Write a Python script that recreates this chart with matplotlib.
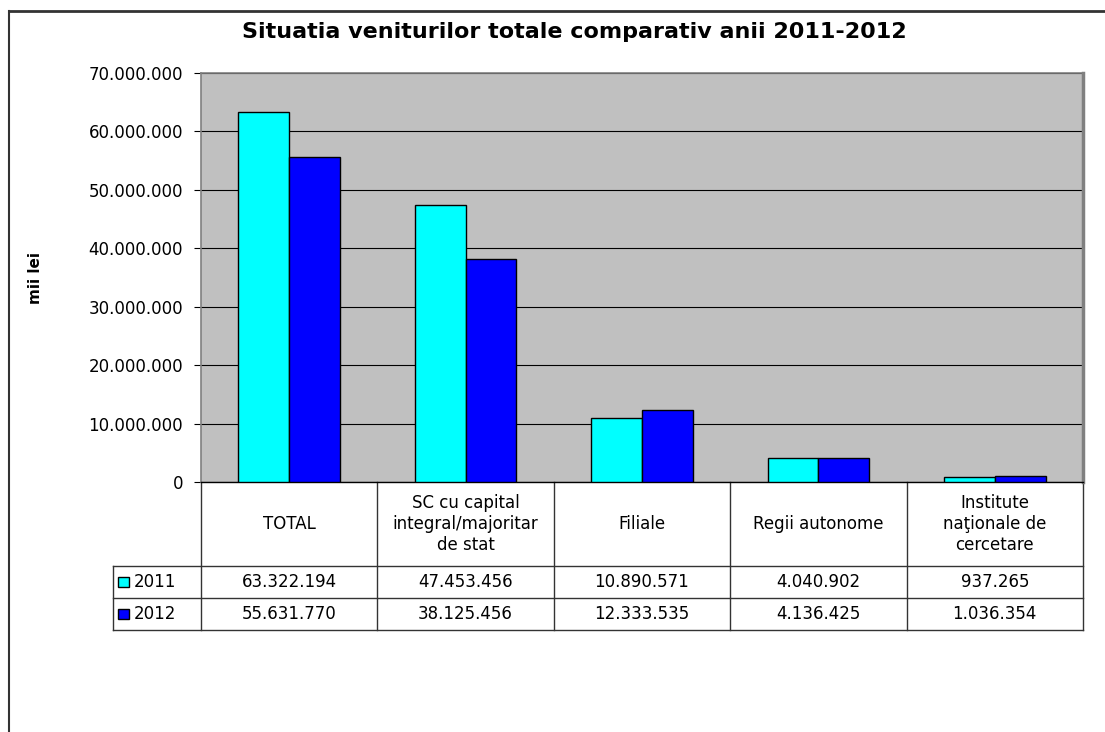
import matplotlib
matplotlib.use("Agg")
import matplotlib.pyplot as plt
import matplotlib.transforms as mtransforms
from matplotlib.ticker import FuncFormatter, MultipleLocator
from matplotlib.patches import Rectangle
import numpy as np

plt.rcParams['font.family'] = ['DejaVu Sans']

categories = ['TOTAL', 'SC cu capital\nintegral/majoritar\nde stat', 'Filiale',
              'Regii autonome', 'Institute\nnaţionale de\ncercetare']
years = ['2011', '2012']
v2011 = [63322194, 47453456, 10890571, 4040902, 937265]
v2012 = [55631770, 38125456, 12333535, 4136425, 1036354]
colors = ['#00FFFF', '#0000FF']

def dots(v):
    return f"{v:,.0f}".replace(",", ".")

fig = plt.figure(figsize=(11.05, 7.32), dpi=100)
ax = fig.add_axes([201/1105, 1 - 482/732, (1083-201)/1105, (482-73)/732])

x = np.arange(len(categories))
w = 0.288
ax.bar(x - w/2, v2011, w, color=colors[0], edgecolor='black', linewidth=1, zorder=3)
ax.bar(x + w/2, v2012, w, color=colors[1], edgecolor='black', linewidth=1, zorder=3)

ax.set_facecolor('#C0C0C0')
ax.set_xlim(-0.5, len(categories) - 0.5)
ax.set_ylim(0, 70000000)
ax.yaxis.set_major_locator(MultipleLocator(10000000))
ax.yaxis.set_major_formatter(FuncFormatter(lambda v, p: dots(v)))
ax.grid(axis='y', color='black', linewidth=0.8, zorder=1)
ax.set_xticks([])
ax.tick_params(axis='y', length=5, width=0.8, pad=8, labelsize=12, direction='out')
for s in ['top', 'right', 'left']:
    ax.spines[s].set_color('#808080')
    ax.spines[s].set_linewidth(1.2)
ax.spines['right'].set_linewidth(2.5)
ax.spines['bottom'].set_color('black')
ax.spines['bottom'].set_linewidth(1)
ax.set_ylabel('mii lei', fontsize=11, fontweight='bold')
ax.yaxis.set_label_coords((43 - 201) / (1083 - 201), 0.5)

# data table below the plot
tr = mtransforms.blended_transform_factory(ax.transData, ax.transAxes)
h = 482 - 73
y_head = -(566 - 482) / h
y_r1 = -(598 - 482) / h
y_r2 = -(630 - 482) / h
xl = -1.0
n = len(categories)
lc = '#333333'
for xb in np.arange(n + 1) - 0.5:
    ax.plot([xb, xb], [0, y_r2], color=lc, lw=1, transform=tr, clip_on=False)
ax.plot([xl, xl], [y_head, y_r2], color=lc, lw=1, transform=tr, clip_on=False)
for yy in [y_head, y_r1, y_r2]:
    ax.plot([xl, n - 0.5], [yy, yy], color=lc, lw=1, transform=tr, clip_on=False)

for i, c in enumerate(categories):
    ax.text(i, y_head / 2, c, ha='center', va='center', fontsize=12,
            linespacing=1.25, transform=tr)
rows = [(v2011, y_head, y_r1, colors[0], years[0]),
        (v2012, y_r1, y_r2, colors[1], years[1])]
for vals, yt, yb, col, yr in rows:
    ym = (yt + yb) / 2
    for i, v in enumerate(vals):
        ax.text(i, ym, dots(v), ha='center', va='center', fontsize=12, transform=tr)
    ax.add_patch(Rectangle((xl + 0.03, ym - 0.013), 0.063, 0.026, facecolor=col,
                           edgecolor='black', lw=1, transform=tr, clip_on=False))
    ax.text(xl + 0.12, ym, yr, ha='left', va='center', fontsize=12, transform=tr)

fig.text(574/1105, 1 - 32/732, 'Situatia veniturilor totale comparativ anii 2011-2012',
         ha='center', va='center', fontsize=16, fontweight='bold')

# outer chart border
fig.add_artist(plt.Line2D([9/1105, 1], [1 - 11/732, 1 - 11/732], color='#333333', lw=2,
                          transform=fig.transFigure))
fig.add_artist(plt.Line2D([9/1105, 9/1105], [0, 1 - 11/732], color='#333333', lw=1.5,
                          transform=fig.transFigure))

fig.savefig('out.png', dpi=100)
